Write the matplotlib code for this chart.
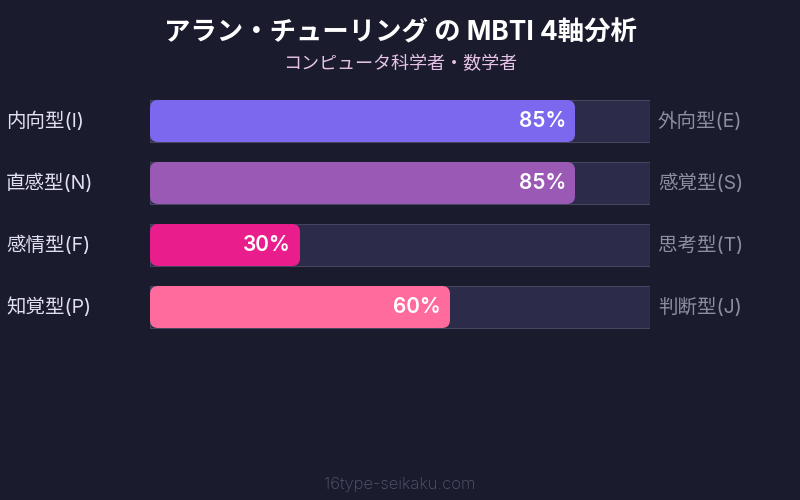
import matplotlib
matplotlib.use("Agg")
import matplotlib.pyplot as plt
from matplotlib.patches import FancyBboxPatch, Rectangle

plt.rcParams['font.family'] = ['Inter', 'Noto Sans CJK JP', 'DejaVu Sans']

# データ
left_labels = ['内向型(I)', '直感型(N)', '感情型(F)', '知覚型(P)']
right_labels = ['外向型(E)', '感覚型(S)', '思考型(T)', '判断型(J)']
values = [85, 85, 30, 60]
colors = ['#7b68ee', '#9b59b6', '#e91e8c', '#ff6b9d']

bg = '#1b1b2e'
fig = plt.figure(figsize=(8, 5), dpi=100, facecolor=bg)

# バー領域: x 150-650px, y 90-338px
ax = fig.add_axes([150 / 800, 1 - 338 / 500, 500 / 800, 248 / 500])
ax.set_facecolor(bg)
ax.set_xlim(0, 100)
ax.set_ylim(3.5, -0.5)
ax.axis('off')

bar_h = 42 / 62
aspect = 5 / 62  # y単位/x単位 (ピクセル比)
for i, (v, c) in enumerate(zip(values, colors)):
    ax.add_patch(Rectangle((0, i - bar_h / 2), 100, bar_h, facecolor='#2d2b4a',
                           edgecolor='#45455f', linewidth=0.8))
    ax.add_patch(FancyBboxPatch((0, i - bar_h / 2), v, bar_h,
                                boxstyle='round,pad=0,rounding_size=1.6',
                                mutation_aspect=aspect, facecolor=c, edgecolor='none'))
    ax.text(v - 1.8, i, f'{v}%', ha='right', va='center', color='white',
            fontsize=15, fontweight='semibold')
    ax.text(-28.8, i, left_labels[i], ha='left', va='center', color='#e0e0f0', fontsize=14,
            clip_on=False)
    ax.text(101.6, i, right_labels[i], ha='left', va='center', color='#8e8ea2', fontsize=14,
            clip_on=False)

fig.text(0.5, 1 - 33 / 500, 'アラン・チューリング の MBTI 4軸分析', ha='center', va='center',
         color='white', fontsize=19, fontweight='bold')
fig.text(0.5, 1 - 65 / 500, 'コンピュータ科学者・数学者', ha='center', va='center',
         color='#e6c3e6', fontsize=13)
fig.text(0.5, 1 - 484 / 500, '16type-seikaku.com', ha='center', va='center',
         color='#55556e', fontsize=12, fontweight='light')

fig.savefig('out.png', dpi=100, facecolor=bg)
